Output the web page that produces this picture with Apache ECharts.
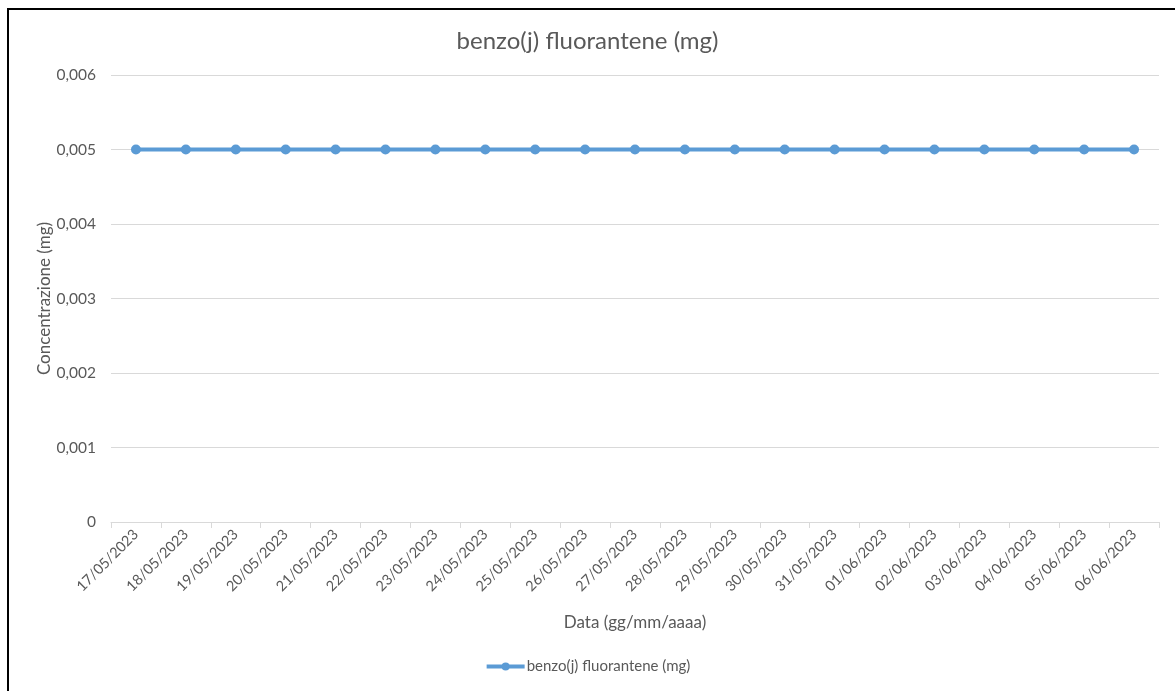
<!DOCTYPE html>
<html>
<head>
<meta charset="utf-8">
<script src="https://cdn.jsdelivr.net/npm/echarts@6/dist/echarts.min.js"></script>
<style>
  html, body { margin: 0; padding: 0; background: #fff; }
  #frame { position: absolute; left: 7px; top: 8px; right: 0; bottom: 0;
           border-top: 2px solid #000; border-left: 2px solid #000; }
  #main { position: absolute; left: 0; top: 0; width: 1175px; height: 691px; }
</style>
</head>
<body>
<div id="frame"></div>
<div id="main"></div>
<script>
// dati
const dates = ['17/05/2023', '18/05/2023', '19/05/2023', '20/05/2023', '21/05/2023',
  '22/05/2023', '23/05/2023', '24/05/2023', '25/05/2023', '26/05/2023', '27/05/2023',
  '28/05/2023', '29/05/2023', '30/05/2023', '31/05/2023', '01/06/2023', '02/06/2023',
  '03/06/2023', '04/06/2023', '05/06/2023', '06/06/2023'];
const values = [0.005, 0.005, 0.005, 0.005, 0.005, 0.005, 0.005, 0.005, 0.005, 0.005, 0.005,
  0.005, 0.005, 0.005, 0.005, 0.005, 0.005, 0.005, 0.005, 0.005, 0.005];
const seriesName = 'benzo(j) fluorantene (mg)';

const font = 'Lato, "Open Sans", sans-serif';
const grey = '#595959';

const myChart = echarts.init(document.getElementById('main'));
myChart.setOption({
  animation: false,
  textStyle: { fontFamily: font },
  title: {
    text: seriesName,
    left: 'center',
    top: 24,
    textStyle: { fontFamily: font, fontSize: 24, fontWeight: 'normal', color: grey }
  },
  grid: { left: 111, right: 16, top: 75, bottom: 169 },
  legend: {
    bottom: 12,
    left: 'center',
    itemWidth: 38,
    itemHeight: 10,
    itemGap: 4,
    itemStyle: { color: '#5B9BD5' },
    lineStyle: { width: 4, color: '#5B9BD5' },
    textStyle: { fontFamily: font, fontSize: 15, color: grey, padding: [0, 0, 0, -3] },
    data: [seriesName]
  },
  xAxis: {
    type: 'category',
    data: dates,
    boundaryGap: true,
    name: 'Data (gg/mm/aaaa)',
    nameLocation: 'middle',
    nameGap: 92,
    nameMoveOverlap: false,
    nameTextStyle: { fontFamily: font, fontSize: 17, color: grey },
    axisLine: { lineStyle: { color: '#d9d9d9', width: 1 } },
    axisTick: { show: true, length: 6, lineStyle: { color: '#d9d9d9' } },
    axisLabel: { rotate: 45, interval: 0, fontSize: 14.5, color: grey, margin: 10 }
  },
  yAxis: {
    type: 'value',
    min: 0,
    max: 0.006,
    interval: 0.001,
    name: 'Concentrazione (mg)',
    nameLocation: 'middle',
    nameGap: 58,
    nameMoveOverlap: false,
    nameTextStyle: { fontFamily: font, fontSize: 17, color: grey },
    axisLine: { show: false },
    axisTick: { show: false },
    splitLine: { lineStyle: { color: '#d9d9d9', width: 1 } },
    axisLabel: {
      fontSize: 15.5, color: grey, margin: 15,
      formatter: v => v === 0 ? '0' : v.toFixed(3).replace('.', ',')
    }
  },
  series: [{
    name: seriesName,
    type: 'line',
    data: values,
    symbol: 'circle',
    symbolSize: 10,
    color: '#5B9BD5',
    lineStyle: { width: 4, color: '#5B9BD5' },
    itemStyle: { color: '#5B9BD5' }
  }]
});
</script>
</body>
</html>
